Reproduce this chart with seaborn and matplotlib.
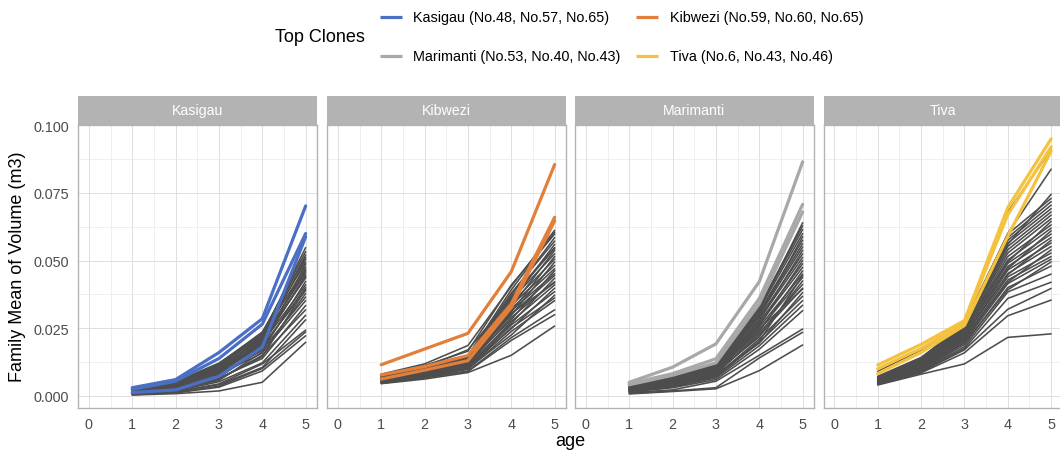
import matplotlib
matplotlib.use("Agg")
import matplotlib.pyplot as plt
import seaborn as sns
import pandas as pd
from matplotlib.lines import Line2D
from matplotlib.ticker import MultipleLocator

# ---- data ----
AGES = [1, 2, 3, 4, 5]
REGIONS = ["Kasigau", "Kibwezi", "Marimanti", "Tiva"]
TOP_LABELS = ["Kasigau (No.48, No.57, No.65)", "Kibwezi (No.59, No.60, No.65)",
              "Marimanti (No.53, No.40, No.43)", "Tiva (No.6, No.43, No.46)"]
TOP_COLORS = ["#4A6FC4", "#E27F3B", "#A8A8A8", "#F4C23E"]
Y_TICKS = [0.000, 0.025, 0.050, 0.075, 0.100]
X_TICKS = [0, 1, 2, 3, 4, 5]

# one row per family, values at ages 1..5
KASIGAU_TOP = [
    [0.0030, 0.0060, 0.0160, 0.0285, 0.0702],
    [0.0024, 0.0054, 0.0138, 0.0265, 0.0600],
    [0.0012, 0.0022, 0.0072, 0.0180, 0.0588],
]
KASIGAU_OTHERS = [
    [0.0003, 0.0008, 0.0018, 0.0050, 0.0198],
    [0.0005, 0.0011, 0.0032, 0.0092, 0.0222],
    [0.0004, 0.0012, 0.0036, 0.0101, 0.0236],
    [0.0007, 0.0014, 0.0044, 0.0118, 0.0243],
    [0.0006, 0.0016, 0.0041, 0.0105, 0.0281],
    [0.0009, 0.0018, 0.0052, 0.0122, 0.0298],
    [0.0008, 0.0020, 0.0060, 0.0150, 0.0318],
    [0.0012, 0.0024, 0.0066, 0.0138, 0.0334],
    [0.0010, 0.0021, 0.0057, 0.0162, 0.0352],
    [0.0014, 0.0027, 0.0072, 0.0171, 0.0365],
    [0.0011, 0.0025, 0.0079, 0.0158, 0.0378],
    [0.0016, 0.0031, 0.0085, 0.0186, 0.0389],
    [0.0013, 0.0029, 0.0069, 0.0177, 0.0402],
    [0.0018, 0.0035, 0.0091, 0.0195, 0.0411],
    [0.0015, 0.0033, 0.0083, 0.0168, 0.0423],
    [0.0020, 0.0038, 0.0097, 0.0207, 0.0436],
    [0.0017, 0.0036, 0.0088, 0.0190, 0.0447],
    [0.0022, 0.0042, 0.0104, 0.0214, 0.0455],
    [0.0019, 0.0040, 0.0094, 0.0201, 0.0468],
    [0.0024, 0.0046, 0.0110, 0.0222, 0.0476],
    [0.0021, 0.0044, 0.0101, 0.0183, 0.0487],
    [0.0026, 0.0049, 0.0115, 0.0228, 0.0494],
    [0.0023, 0.0045, 0.0107, 0.0210, 0.0505],
    [0.0025, 0.0050, 0.0118, 0.0236, 0.0512],
    [0.0018, 0.0039, 0.0099, 0.0219, 0.0521],
    [0.0027, 0.0052, 0.0121, 0.0231, 0.0533],
    [0.0022, 0.0047, 0.0112, 0.0225, 0.0548],
    [0.0014, 0.0032, 0.0090, 0.0198, 0.0441],
    [0.0010, 0.0023, 0.0063, 0.0145, 0.0395],
    [0.0020, 0.0041, 0.0095, 0.0204, 0.0462],
]

KIBWEZI_TOP = [
    [0.0115, 0.0173, 0.0231, 0.0459, 0.0855],
    [0.0077, 0.0108, 0.0149, 0.0340, 0.0660],
    [0.0062, 0.0095, 0.0130, 0.0327, 0.0647],
]
KIBWEZI_OTHERS = [
    [0.0045, 0.0062, 0.0086, 0.0150, 0.0258],
    [0.0048, 0.0068, 0.0090, 0.0205, 0.0300],
    [0.0046, 0.0066, 0.0092, 0.0215, 0.0318],
    [0.0050, 0.0072, 0.0098, 0.0238, 0.0352],
    [0.0052, 0.0075, 0.0102, 0.0225, 0.0372],
    [0.0049, 0.0070, 0.0105, 0.0262, 0.0385],
    [0.0055, 0.0080, 0.0110, 0.0248, 0.0398],
    [0.0053, 0.0078, 0.0108, 0.0275, 0.0410],
    [0.0058, 0.0084, 0.0115, 0.0290, 0.0422],
    [0.0056, 0.0082, 0.0112, 0.0268, 0.0435],
    [0.0060, 0.0088, 0.0120, 0.0302, 0.0445],
    [0.0051, 0.0076, 0.0118, 0.0315, 0.0452],
    [0.0062, 0.0090, 0.0125, 0.0282, 0.0463],
    [0.0057, 0.0086, 0.0122, 0.0322, 0.0470],
    [0.0064, 0.0094, 0.0130, 0.0335, 0.0482],
    [0.0059, 0.0089, 0.0128, 0.0298, 0.0495],
    [0.0066, 0.0098, 0.0135, 0.0342, 0.0505],
    [0.0054, 0.0081, 0.0117, 0.0310, 0.0515],
    [0.0068, 0.0101, 0.0140, 0.0355, 0.0525],
    [0.0061, 0.0093, 0.0133, 0.0328, 0.0538],
    [0.0070, 0.0105, 0.0145, 0.0365, 0.0548],
    [0.0063, 0.0096, 0.0138, 0.0348, 0.0560],
    [0.0072, 0.0110, 0.0150, 0.0380, 0.0572],
    [0.0067, 0.0102, 0.0142, 0.0372, 0.0585],
    [0.0075, 0.0112, 0.0165, 0.0410, 0.0598],
    [0.0080, 0.0118, 0.0186, 0.0405, 0.0612],
    [0.0065, 0.0100, 0.0148, 0.0392, 0.0605],
    [0.0058, 0.0087, 0.0126, 0.0305, 0.0418],
    [0.0047, 0.0069, 0.0100, 0.0252, 0.0362],
    [0.0071, 0.0106, 0.0170, 0.0360, 0.0545],
]

MARIMANTI_TOP = [
    [0.0050, 0.0106, 0.0192, 0.0422, 0.0865],
    [0.0045, 0.0082, 0.0137, 0.0360, 0.0708],
    [0.0041, 0.0076, 0.0122, 0.0340, 0.0680],
]
MARIMANTI_OTHERS = [
    [0.0007, 0.0016, 0.0026, 0.0093, 0.0188],
    [0.0009, 0.0018, 0.0030, 0.0140, 0.0235],
    [0.0012, 0.0022, 0.0054, 0.0150, 0.0247],
    [0.0015, 0.0030, 0.0060, 0.0172, 0.0315],
    [0.0018, 0.0034, 0.0066, 0.0185, 0.0335],
    [0.0014, 0.0032, 0.0070, 0.0198, 0.0352],
    [0.0020, 0.0040, 0.0074, 0.0210, 0.0368],
    [0.0017, 0.0038, 0.0078, 0.0195, 0.0382],
    [0.0022, 0.0044, 0.0082, 0.0225, 0.0398],
    [0.0019, 0.0042, 0.0080, 0.0232, 0.0412],
    [0.0024, 0.0048, 0.0088, 0.0218, 0.0425],
    [0.0021, 0.0046, 0.0085, 0.0245, 0.0438],
    [0.0026, 0.0052, 0.0092, 0.0255, 0.0450],
    [0.0023, 0.0050, 0.0090, 0.0238, 0.0462],
    [0.0028, 0.0056, 0.0096, 0.0265, 0.0475],
    [0.0025, 0.0054, 0.0094, 0.0272, 0.0488],
    [0.0030, 0.0060, 0.0100, 0.0260, 0.0500],
    [0.0027, 0.0058, 0.0098, 0.0282, 0.0512],
    [0.0032, 0.0064, 0.0104, 0.0290, 0.0525],
    [0.0029, 0.0062, 0.0102, 0.0278, 0.0538],
    [0.0034, 0.0068, 0.0108, 0.0298, 0.0550],
    [0.0031, 0.0066, 0.0106, 0.0305, 0.0562],
    [0.0036, 0.0072, 0.0112, 0.0312, 0.0575],
    [0.0033, 0.0070, 0.0110, 0.0295, 0.0588],
    [0.0038, 0.0076, 0.0116, 0.0320, 0.0600],
    [0.0035, 0.0074, 0.0114, 0.0328, 0.0615],
    [0.0039, 0.0078, 0.0118, 0.0332, 0.0628],
    [0.0037, 0.0075, 0.0117, 0.0318, 0.0640],
    [0.0026, 0.0053, 0.0093, 0.0248, 0.0395],
    [0.0016, 0.0036, 0.0072, 0.0202, 0.0445],
]

TIVA_TOP = [
    [0.0114, 0.0190, 0.0278, 0.0696, 0.0950],
    [0.0100, 0.0175, 0.0270, 0.0670, 0.0920],
    [0.0082, 0.0160, 0.0260, 0.0590, 0.0905],
]
TIVA_OTHERS = [
    [0.0040, 0.0080, 0.0118, 0.0216, 0.0229],
    [0.0042, 0.0085, 0.0159, 0.0296, 0.0354],
    [0.0044, 0.0088, 0.0170, 0.0320, 0.0397],
    [0.0046, 0.0092, 0.0182, 0.0384, 0.0450],
    [0.0048, 0.0095, 0.0190, 0.0400, 0.0480],
    [0.0050, 0.0098, 0.0196, 0.0392, 0.0495],
    [0.0047, 0.0096, 0.0200, 0.0415, 0.0505],
    [0.0052, 0.0102, 0.0205, 0.0428, 0.0515],
    [0.0049, 0.0100, 0.0210, 0.0440, 0.0528],
    [0.0054, 0.0106, 0.0214, 0.0420, 0.0540],
    [0.0051, 0.0104, 0.0218, 0.0452, 0.0552],
    [0.0056, 0.0110, 0.0222, 0.0465, 0.0565],
    [0.0053, 0.0108, 0.0226, 0.0448, 0.0575],
    [0.0058, 0.0114, 0.0230, 0.0478, 0.0585],
    [0.0055, 0.0112, 0.0234, 0.0490, 0.0598],
    [0.0060, 0.0118, 0.0238, 0.0470, 0.0610],
    [0.0057, 0.0116, 0.0242, 0.0502, 0.0620],
    [0.0062, 0.0122, 0.0246, 0.0515, 0.0632],
    [0.0059, 0.0120, 0.0250, 0.0495, 0.0645],
    [0.0064, 0.0126, 0.0253, 0.0528, 0.0655],
    [0.0061, 0.0124, 0.0256, 0.0540, 0.0668],
    [0.0066, 0.0130, 0.0259, 0.0552, 0.0680],
    [0.0063, 0.0128, 0.0262, 0.0565, 0.0692],
    [0.0068, 0.0134, 0.0265, 0.0575, 0.0705],
    [0.0065, 0.0132, 0.0268, 0.0585, 0.0718],
    [0.0070, 0.0138, 0.0270, 0.0598, 0.0730],
    [0.0067, 0.0136, 0.0266, 0.0560, 0.0745],
    [0.0090, 0.0170, 0.0272, 0.0680, 0.0910],
    [0.0072, 0.0142, 0.0262, 0.0600, 0.0838],
    [0.0045, 0.0090, 0.0175, 0.0360, 0.0420],
]

TOPS = [KASIGAU_TOP, KIBWEZI_TOP, MARIMANTI_TOP, TIVA_TOP]
OTHERS = [KASIGAU_OTHERS, KIBWEZI_OTHERS, MARIMANTI_OTHERS, TIVA_OTHERS]


def to_long(rows):
    recs = []
    for fam, row in enumerate(rows):
        for age, v in zip(AGES, row):
            recs.append({"family": fam, "age": age, "volume": v})
    return pd.DataFrame(recs)


sns.set_theme(style="white")
plt.rcParams["font.family"] = ["Liberation Sans", "DejaVu Sans"]

W, H = 1060, 452
fig = plt.figure(figsize=(W / 100, H / 100), dpi=100)

panel_lefts = [78, 327, 575, 823.5]
pw = 238.5
p_bottom, p_top, strip_top = 409, 125.5, 97

for i, region in enumerate(REGIONS):
    left = panel_lefts[i]
    ax = fig.add_axes([left / W, (H - p_bottom) / H, pw / W, (p_bottom - p_top) / H])
    strip = fig.add_axes([left / W, (H - p_top) / H, pw / W, (p_top - strip_top) / H])

    # other families in dark grey, top clones drawn on top
    sns.lineplot(data=to_long(OTHERS[i]), x="age", y="volume", units="family",
                 estimator=None, color="#4D4D4D", linewidth=1.15, ax=ax, zorder=2)
    sns.lineplot(data=to_long(TOPS[i]), x="age", y="volume", units="family",
                 estimator=None, color=TOP_COLORS[i], linewidth=2.3, ax=ax, zorder=3)

    ax.set_xlim(-0.25, 5.25)
    ax.set_ylim(-0.0045, 0.1003)
    ax.set_xticks(X_TICKS)
    ax.set_yticks(Y_TICKS)
    ax.xaxis.set_minor_locator(MultipleLocator(0.5))
    ax.yaxis.set_minor_locator(MultipleLocator(0.0125))
    ax.set_axisbelow(True)
    ax.grid(True, which="major", color="#DEDEDE", linewidth=0.7)
    ax.grid(True, which="minor", color="#E6E6E6", linewidth=0.45)
    ax.tick_params(axis="both", which="major", length=2.75, width=0.6, color="#B3B3B3",
                   labelcolor="#4D4D4D", labelsize=10.4, pad=3.6)
    ax.tick_params(axis="both", which="minor", length=0)
    if i == 0:
        ax.set_yticklabels([f"{v:.3f}" for v in Y_TICKS])
    else:
        ax.set_yticklabels([])
        ax.tick_params(axis="y", which="major", length=0)
    ax.set_xlabel("")
    ax.set_ylabel("")
    for sp in ax.spines.values():
        sp.set_color("#B3B3B3")
        sp.set_linewidth(1.0)

    strip.set_facecolor("#B3B3B3")
    strip.set_xticks([])
    strip.set_yticks([])
    for sp in strip.spines.values():
        sp.set_visible(False)
    strip.text(0.5, 0.5, region, transform=strip.transAxes, ha="center", va="center",
               color="white", fontsize=10.2)

# axis titles
fig.text(570 / W, (H - 446) / H, "age", ha="center", va="baseline", fontsize=13, color="black")
fig.text(18 / W, (H - 267) / H, "Family Mean of Volume (m3)", rotation=90,
         ha="center", va="center", fontsize=13, color="black")

# legend on top
fig.text(275 / W, (H - 37.5) / H, "Top Clones", ha="left", va="center", fontsize=13, color="black")
key_x = [(379.5, 401.8), (636, 658)]
text_x = [413, 670]
row_y = [18.3, 56.7]
order = [(0, 0, 0), (1, 0, 1), (2, 1, 0), (3, 1, 1)]
for idx, row, col in order:
    y = (H - row_y[row]) / H
    x0, x1 = key_x[col]
    fig.add_artist(Line2D([x0 / W, x1 / W], [y, y], transform=fig.transFigure,
                          color=TOP_COLORS[idx], linewidth=2.3, solid_capstyle="butt"))
    fig.text(text_x[col] / W, y, TOP_LABELS[idx], ha="left", va="center",
             fontsize=10.4, color="black")

fig.savefig("out.png", dpi=100)
